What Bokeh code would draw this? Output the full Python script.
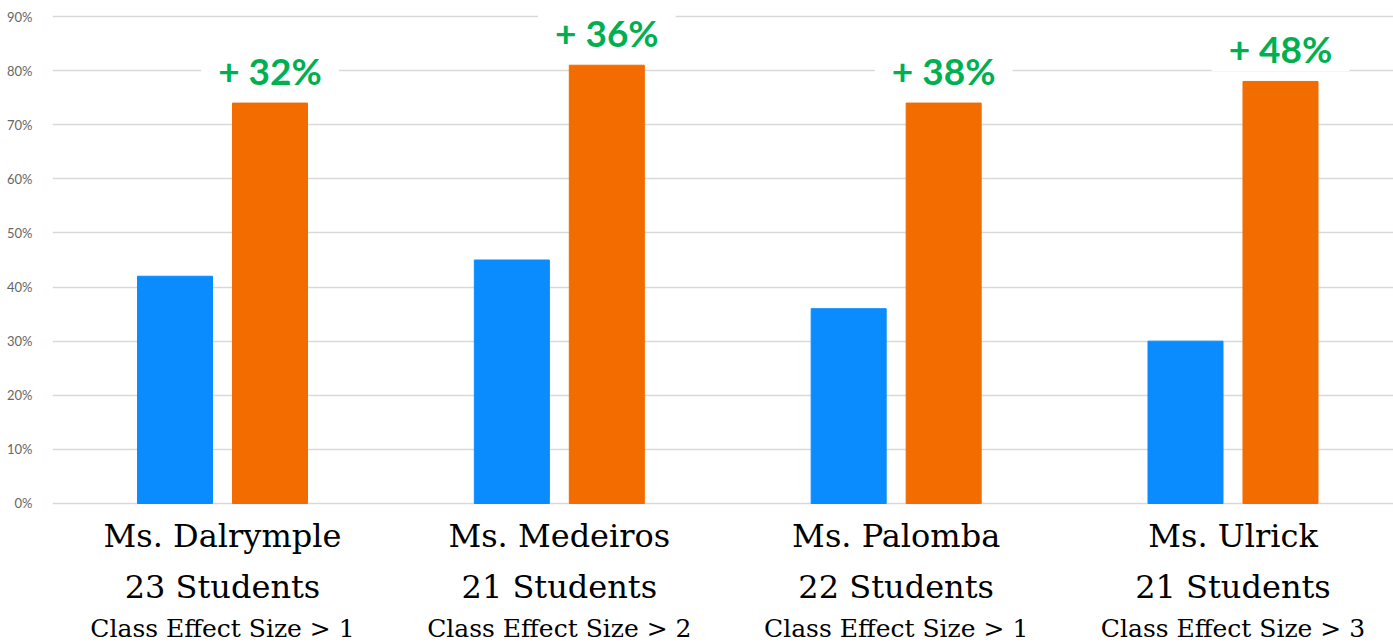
from bokeh.plotting import figure
from bokeh.models import ColumnDataSource, Range1d, FixedTicker, NumeralTickFormatter
from bokeh.transform import dodge
from bokeh.core.properties import value
from bokeh.embed import file_html
from bokeh.resources import INLINE

# ---- data ----
teachers = ["Ms. Dalrymple", "Ms. Medeiros", "Ms. Palomba", "Ms. Ulrick"]
students = ["23 Students", "21 Students", "22 Students", "21 Students"]
effect = ["Class Effect Size > 1", "Class Effect Size > 2",
          "Class Effect Size > 1", "Class Effect Size > 3"]
pre_scores = [0.42, 0.45, 0.36, 0.30]
post_scores = [0.74, 0.81, 0.74, 0.78]
gain_labels = ["+ 32%", "+ 36%", "+ 38%", "+ 48%"]
y_ticks = [0.0, 0.1, 0.2, 0.3, 0.4, 0.5, 0.6, 0.7, 0.8, 0.9]

src = ColumnDataSource(dict(
    x=list(range(len(teachers))),
    teacher=teachers, students=students, effect=effect,
    pre=pre_scores, post=post_scores, gain=gain_labels,
))

BLUE = "#0A8CFF"
ORANGE = "#F26C00"
GREEN = "#00B050"

p = figure(width=1393, height=644, output_backend="svg", toolbar_location=None,
           x_range=Range1d(-0.5047, 3.4765), y_range=Range1d(-0.2606, 0.9296),
           min_border=0, min_border_left=52, background_fill_color="white",
           border_fill_color="white")
p.outline_line_color = None

# bars
bw = 0.2227
off = 0.141
p.vbar(x=dodge("x", -off, range=p.x_range), top="pre", bottom=0, width=bw,
       color=BLUE, source=src)
p.vbar(x=dodge("x", off, range=p.x_range), top="post", bottom=0, width=bw,
       color=ORANGE, source=src)

# gain labels above the post bars
p.text(x=dodge("x", off, range=p.x_range), y="post", text="gain", source=src,
       y_offset=-34, text_align="center", text_baseline="alphabetic",
       text_font=value("Lato"), text_font_size="37px", text_font_style="bold",
       text_color=GREEN, background_fill_color="white",
       padding=dict(left=17, right=17, top=2, bottom=0))

# category labels
p.text(x="x", y=0, text="teacher", source=src, y_offset=33,
       text_align="center", text_baseline="alphabetic",
       text_font=value("DejaVu Serif"), text_font_size="32px", text_color="black")
p.text(x="x", y=0, text="students", source=src, y_offset=84,
       text_align="center", text_baseline="alphabetic",
       text_font=value("DejaVu Serif"), text_font_size="32px", text_color="black")
p.text(x="x", y=0, text="effect", source=src, y_offset=125,
       text_align="center", text_baseline="alphabetic",
       text_font=value("DejaVu Serif"), text_font_size="25px", text_color="black")

# axes and grid
p.xaxis.visible = False
p.xgrid.visible = False
yax = p.yaxis[0]
yax.ticker = FixedTicker(ticks=y_ticks)
yax.formatter = NumeralTickFormatter(format="0%")
yax.axis_line_color = None
yax.major_tick_line_color = None
yax.minor_tick_line_color = None
yax.major_label_standoff = 14
yax.major_label_text_font = "Lato"
yax.major_label_text_font_size = "13px"
yax.major_label_text_color = "#666666"
p.ygrid.ticker = FixedTicker(ticks=y_ticks)
p.ygrid.grid_line_color = "#d9d9d9"
p.ygrid.grid_line_width = 1.5

open("out.html", "w").write(file_html(p, INLINE))
